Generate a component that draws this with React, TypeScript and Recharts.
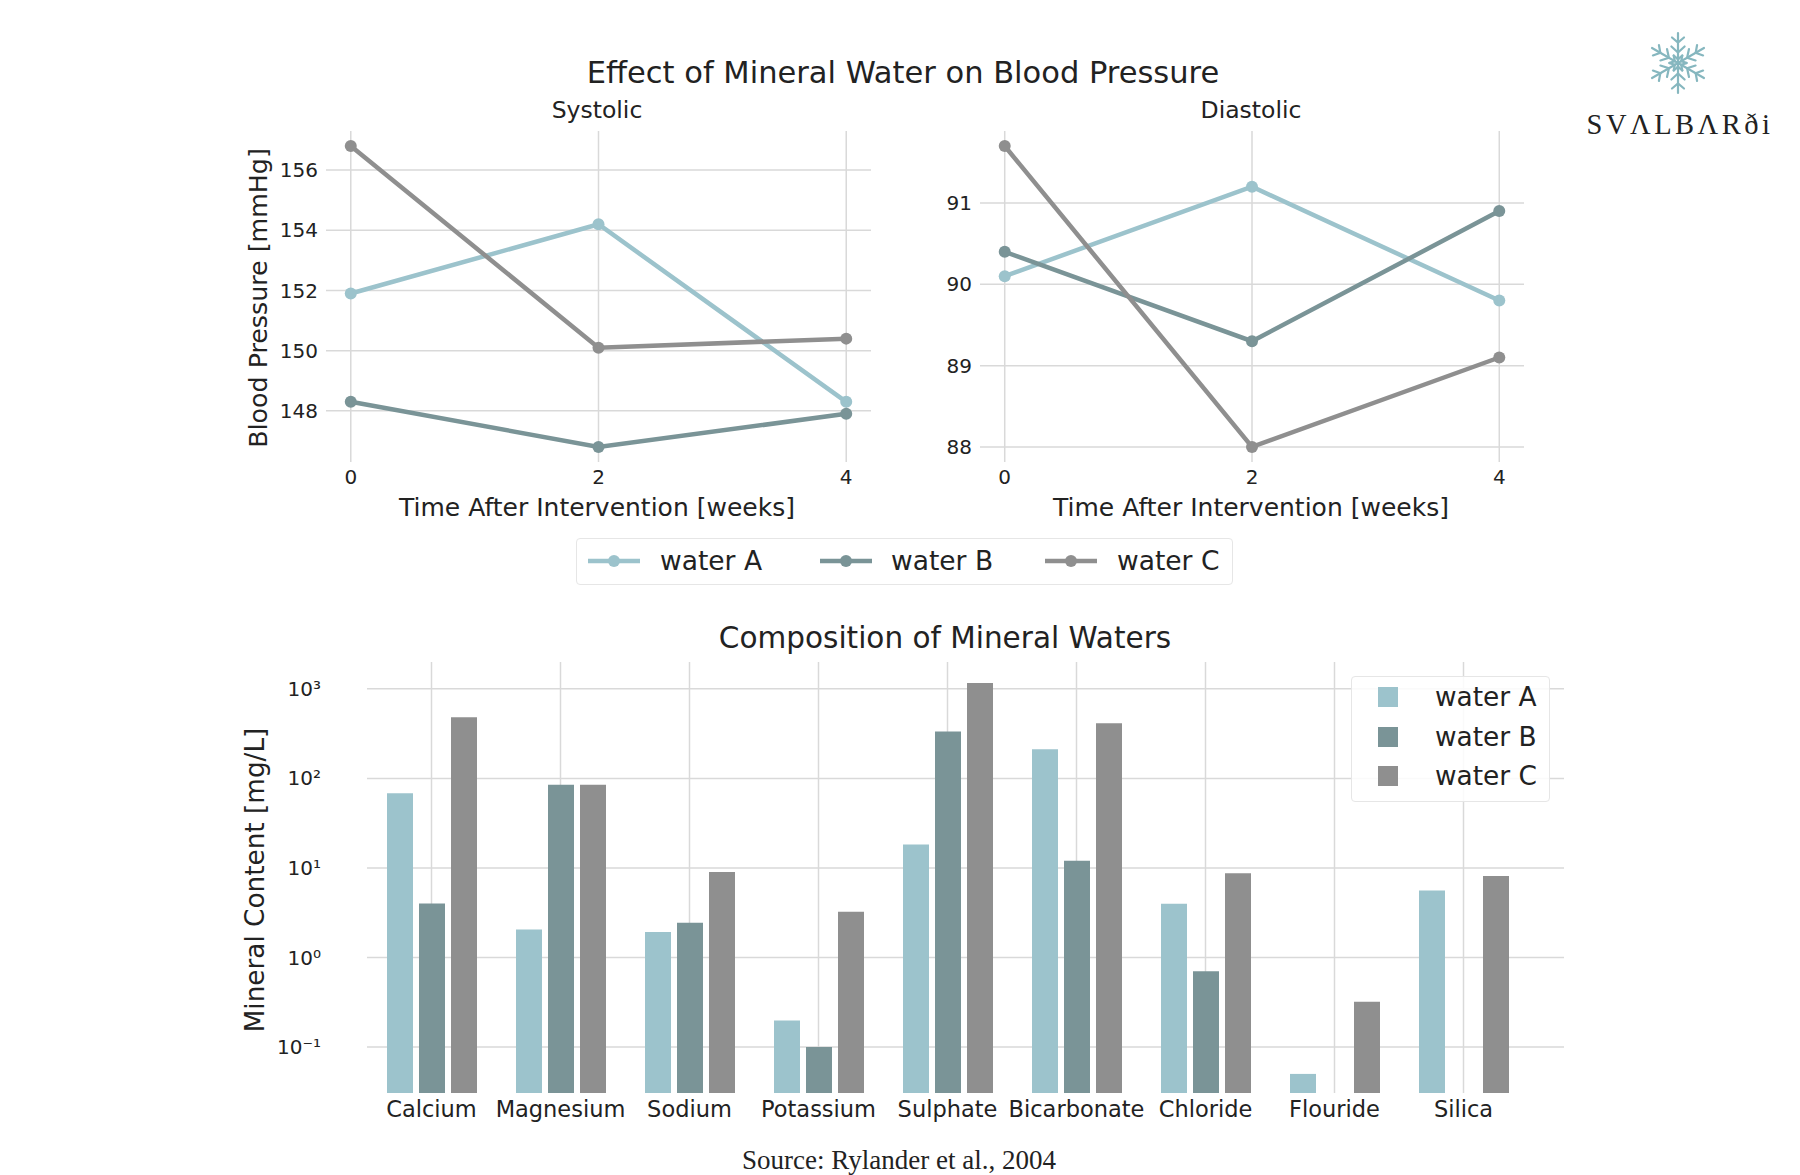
import React from 'react';
import { LineChart, Line, XAxis, YAxis, CartesianGrid, BarChart, Bar } from 'recharts';

const FONT = '"DejaVu Sans", "Noto Sans", sans-serif';
const SERIF = '"Liberation Serif", "DejaVu Serif", serif';
const TEXT = '#222222';
const GRID = '#d9d9d9';
const COLOR_A = '#9cc3cc';
const COLOR_B = '#7a9497';
const COLOR_C = '#8f8f8f';

const seriesNames = ['water A', 'water B', 'water C'];
const seriesColors = [COLOR_A, COLOR_B, COLOR_C];

const weeks = [0, 2, 4];
const systolicA = [151.9, 154.2, 148.3];
const systolicB = [148.3, 146.8, 147.9];
const systolicC = [156.8, 150.1, 150.4];
const diastolicA = [90.1, 91.2, 89.8];
const diastolicB = [90.4, 89.3, 90.9];
const diastolicC = [91.7, 88.0, 89.1];

const systolicTicks = [148, 150, 152, 154, 156];
const diastolicTicks = [88, 89, 90, 91];
const weekTicks = [0, 2, 4];

const minerals = ['Calcium', 'Magnesium', 'Sodium', 'Potassium', 'Sulphate', 'Bicarbonate', 'Chloride', 'Flouride', 'Silica'];
const mineralA = [68, 2.05, 1.92, 0.197, 18.2, 212, 3.97, 0.05, 5.6];
const mineralB = [4.0, 85, 2.44, 0.1, 334, 12.0, 0.7, null, null];
const mineralC = [483, 85, 9.0, 3.23, 1166, 414, 8.7, 0.32, 8.1];
const logTicks = [0.1, 1, 10, 100, 1000];
const logTickLabels = ['10⁻¹', '10⁰', '10¹', '10²', '10³'];

const systolicData = weeks.map((w, i) => ({ week: w, A: systolicA[i], B: systolicB[i], C: systolicC[i] }));
const diastolicData = weeks.map((w, i) => ({ week: w, A: diastolicA[i], B: diastolicB[i], C: diastolicC[i] }));
const mineralData = minerals.map((m, i) => ({ name: m, A: mineralA[i], B: mineralB[i], C: mineralC[i] }));

const Label = ({ x, y, size, children, rotate, family, spacing }: any) => (
  <div
    style={{
      position: 'absolute',
      left: x,
      top: y,
      transform: `translate(-50%, -50%)${rotate ? ' rotate(-90deg)' : ''}`,
      whiteSpace: 'nowrap',
      fontSize: size,
      fontFamily: family || FONT,
      color: TEXT,
      lineHeight: 1,
      letterSpacing: spacing || 0,
    }}
  >
    {children}
  </div>
);

const tickStyle = { fontSize: 20, fill: TEXT, fontFamily: FONT };
const catTickStyle = { fontSize: 22.5, fill: TEXT, fontFamily: FONT };

const lineKeys = ['A', 'B', 'C'];

const renderLines = () =>
  lineKeys.map((k, i) => (
    <Line
      key={k}
      type="linear"
      dataKey={k}
      name={seriesNames[i]}
      stroke={seriesColors[i]}
      strokeWidth={4.5}
      dot={{ r: 6, fill: seriesColors[i], stroke: seriesColors[i], strokeWidth: 0 }}
      isAnimationActive={false}
    />
  ));

const Snowflake = ({ cx, cy, r, color }: any) => {
  const spokes = [0, 60, 120, 180, 240, 300];
  return (
    <svg style={{ position: 'absolute', left: cx - r - 4, top: cy - r - 4 }} width={2 * r + 8} height={2 * r + 8}>
      <g transform={`translate(${r + 4},${r + 4})`} stroke={color} strokeWidth={2.2} strokeLinecap="round" fill="none">
        {spokes.map((a) => (
          <g key={a} transform={`rotate(${a})`}>
            <line x1={0} y1={0} x2={0} y2={-r} />
            <polyline points={`${-r * 0.22},${-r * 0.55} 0,${-r * 0.35} ${r * 0.22},${-r * 0.55}`} />
            <polyline points={`${-r * 0.2},${-r * 0.85} 0,${-r * 0.68} ${r * 0.2},${-r * 0.85}`} />
            <polyline points={`${-r * 0.14},${-r * 0.25} 0,${-r * 0.12} ${r * 0.14},${-r * 0.25}`} />
          </g>
        ))}
      </g>
    </svg>
  );
};

export default function App() {
  return (
    <div style={{ position: 'absolute', left: 0, top: 0, width: 1800, height: 1175, background: '#ffffff', overflow: 'hidden', fontFamily: FONT }}>
      {/* Top title */}
      <Label x={903} y={73} size={30.5}>Effect of Mineral Water on Blood Pressure</Label>
      <Label x={597} y={111} size={23.5}>Systolic</Label>
      <Label x={1251} y={111} size={23.5}>Diastolic</Label>

      {/* Systolic chart */}
      <div style={{ position: 'absolute', left: 240, top: 100 }}>
        <LineChart width={651} height={402} data={systolicData} margin={{ top: 31, right: 20, bottom: 10, left: 26 }}>
          <CartesianGrid stroke={GRID} strokeWidth={1.5} syncWithTicks />
          <XAxis dataKey="week" type="number" domain={[-0.2, 4.2]} ticks={weekTicks} allowDataOverflow axisLine={false} tickLine={false} tick={tickStyle} height={30} />
          <YAxis type="number" domain={[146.3, 157.3]} ticks={systolicTicks} allowDataOverflow axisLine={false} tickLine={false} tick={tickStyle} width={60} />
          {renderLines()}
        </LineChart>
      </div>

      {/* Diastolic chart */}
      <div style={{ position: 'absolute', left: 900, top: 100 }}>
        <LineChart width={644} height={402} data={diastolicData} margin={{ top: 31, right: 20, bottom: 10, left: 30 }}>
          <CartesianGrid stroke={GRID} strokeWidth={1.5} syncWithTicks />
          <XAxis dataKey="week" type="number" domain={[-0.2, 4.2]} ticks={weekTicks} allowDataOverflow axisLine={false} tickLine={false} tick={tickStyle} height={30} />
          <YAxis type="number" domain={[87.815, 91.885]} ticks={diastolicTicks} allowDataOverflow axisLine={false} tickLine={false} tick={tickStyle} width={50} />
          {renderLines()}
        </LineChart>
      </div>

      <Label x={259} y={298} size={25.3} rotate>Blood Pressure [mmHg]</Label>
      <Label x={597} y={507} size={25}>Time After Intervention [weeks]</Label>
      <Label x={1251} y={507} size={25}>Time After Intervention [weeks]</Label>

      {/* Top legend */}
      <div style={{ position: 'absolute', left: 576, top: 538, width: 657, height: 47, border: '1.5px solid #e6e6e6', borderRadius: 4, boxSizing: 'border-box' }} />
      {[588, 820, 1045].map((lx, i) => (
        <React.Fragment key={i}>
          <svg style={{ position: 'absolute', left: lx, top: 551 }} width={54} height={20}>
            <line x1={0} y1={10} x2={52} y2={10} stroke={seriesColors[i]} strokeWidth={4.5} />
            <circle cx={26} cy={10} r={6} fill={seriesColors[i]} />
          </svg>
          <div style={{ position: 'absolute', left: [660, 891, 1117][i], top: 561, transform: 'translateY(-50%)', fontSize: 26.5, color: TEXT, whiteSpace: 'nowrap', lineHeight: 1 }}>
            {seriesNames[i]}
          </div>
        </React.Fragment>
      ))}

      {/* Bottom chart */}
      <Label x={945} y={639} size={29.5}>Composition of Mineral Waters</Label>
      <div style={{ position: 'absolute', left: 240, top: 620 }}>
        <BarChart width={1344} height={523} data={mineralData} margin={{ top: 42, right: 20, bottom: 10, left: 57 }} barGap={6} barSize={26}>
          <CartesianGrid stroke={GRID} strokeWidth={1.5} syncWithTicks />
          <XAxis dataKey="name" type="category" axisLine={false} tickLine={false} tick={catTickStyle} height={40} padding={{ left: 0, right: 36 }} interval={0} />
          <YAxis
            type="number"
            scale="log"
            domain={[0.0306, 1995]}
            ticks={logTicks}
            allowDataOverflow
            axisLine={false}
            tickLine={false}
            tick={tickStyle}
            tickMargin={40}
            width={70}
            tickFormatter={(v: number) => logTickLabels[logTicks.indexOf(v)] ?? String(v)}
          />
          <Bar dataKey="A" name={seriesNames[0]} fill={COLOR_A} isAnimationActive={false} />
          <Bar dataKey="B" name={seriesNames[1]} fill={COLOR_B} isAnimationActive={false} />
          <Bar dataKey="C" name={seriesNames[2]} fill={COLOR_C} isAnimationActive={false} />
        </BarChart>
      </div>
      <Label x={255} y={880} size={26.3} rotate>Mineral Content [mg/L]</Label>

      {/* Bottom legend */}
      <div style={{ position: 'absolute', left: 1351, top: 676, width: 199, height: 126, border: '1.5px solid #e6e6e6', borderRadius: 4, boxSizing: 'border-box', background: 'rgba(255,255,255,0.85)' }} />
      {[697, 737, 776].map((ly, i) => (
        <React.Fragment key={i}>
          <div style={{ position: 'absolute', left: 1378, top: ly - 10, width: 20, height: 20, background: seriesColors[i] }} />
          <div style={{ position: 'absolute', left: 1435, top: ly, transform: 'translateY(-50%)', fontSize: 26.4, color: TEXT, whiteSpace: 'nowrap', lineHeight: 1 }}>
            {seriesNames[i]}
          </div>
        </React.Fragment>
      ))}

      {/* Source */}
      <Label x={899} y={1160} size={27} family={SERIF}>Source: Rylander et al., 2004</Label>

      {/* Logo */}
      <Snowflake cx={1678} cy={63} r={30} color="#86b7bf" />
      <Label x={1680} y={125} size={28.5} family={SERIF} spacing={3.5}>SVΛLBΛRði</Label>
    </div>
  );
}
